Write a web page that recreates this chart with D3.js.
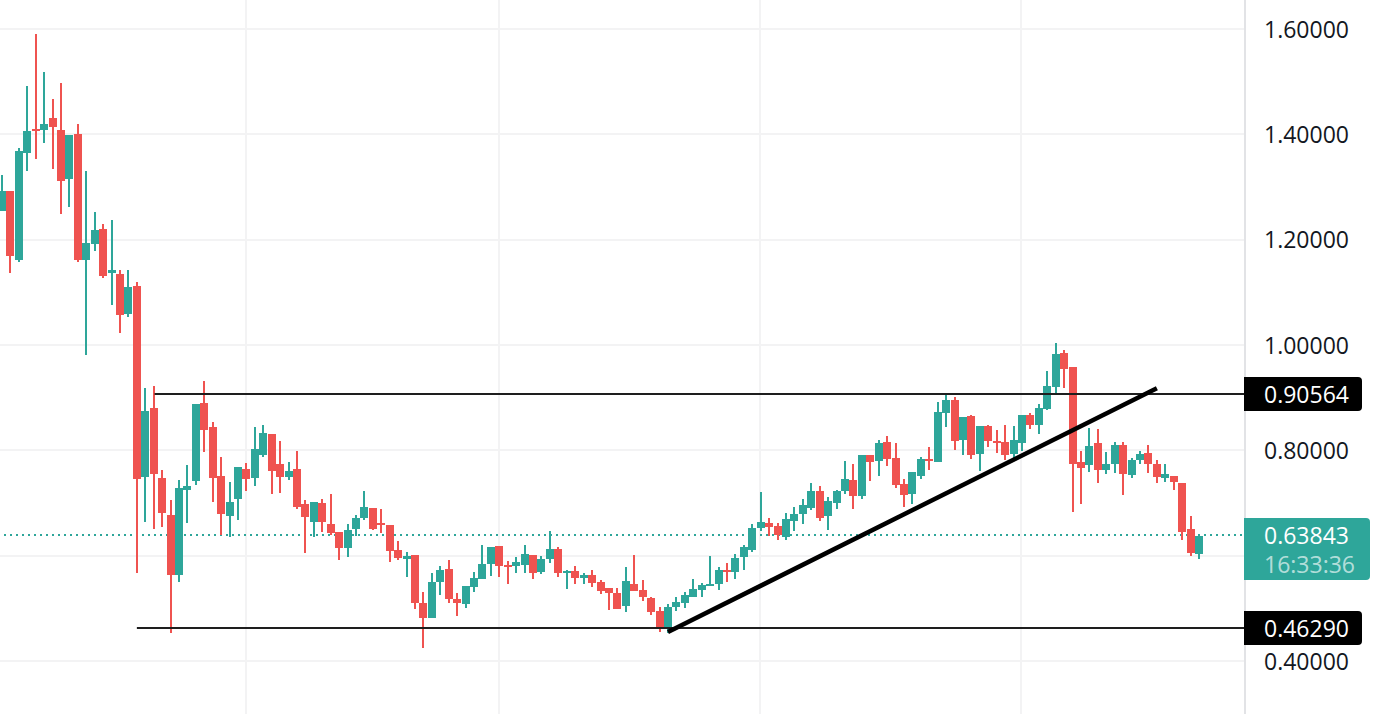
<!DOCTYPE html>
<html><head><meta charset="utf-8">
<script src="https://cdn.jsdelivr.net/npm/d3@7"></script>
<style>html,body{margin:0;padding:0;background:#fff;overflow:hidden}svg{display:block}
text{font-family:"Open Sans",sans-serif;font-size:23px}</style></head><body>
<svg id="c" width="1380" height="714"></svg>
<script>
const opens=[1.254,1.292,1.161,1.365,1.410,1.408,1.431,1.408,1.315,1.401,1.161,1.192,1.220,1.137,1.135,1.059,1.112,
.749,.880,.748,.677,.563,.725,.742,.890,.844,.751,.675,.708,.765,.748,.791,.831,.774,.749,
.765,.698,.664,.700,.660,.645,.615,.651,.672,.691,.662,.658,.611,.594,.601,.510,.482,.550,.575,.518,.508,.541,.556,.584,.618,.582,.580,.582,.601,.569,.594,.613,.567,.571,
.558,.563,.550,.539,.529,.505,.546,.535,.520,.495,.465,.503,.510,.522,.535,.542,.546,.573,.569,.598,.611,.653,.662,.656,.636,.666,
.679,.691,.723,.675,.700,.723,.744,.714,.791,.780,.816,.786,.736,.717,.751,.784,.778,.870,.896,.820,.866,.793,.846,.818,.816,
.793,.814,.868,.848,.878,.920,.985,.958,.778,.772,.814,.763,.774,.810,.753,.782,.795,.774,.748,.751,.738,.651,.603];
const highs=[1.323,1.292,1.374,1.492,1.591,1.518,1.467,1.498,1.399,1.420,1.330,1.253,1.230,1.237,1.142,1.142,1.120,
.918,.922,.763,.706,.744,.772,.888,.932,.854,.787,.740,.768,.776,.844,.848,.831,.818,.778,
.799,.706,.702,.708,.717,.645,.660,.677,.723,.691,.689,.658,.628,.607,.601,.531,.567,.580,.592,.529,.542,.569,.620,.617,.618,.590,.598,.620,.601,.599,.647,.617,.573,.580,
.567,.573,.554,.539,.539,.579,.601,.554,.522,.503,.508,.522,.531,.556,.548,.599,.579,.586,.603,.620,.660,.721,.672,.662,.681,.692,
.708,.738,.732,.712,.725,.780,.774,.791,.791,.820,.828,.814,.746,.759,.787,.807,.892,.907,.902,.864,.868,.846,.848,.839,.848,
.846,.868,.871,.888,.951,1.004,.991,.958,.799,.842,.841,.797,.816,.816,.786,.799,.810,.782,.774,.751,.738,.675,.641];
const lows=[1.254,1.137,1.158,1.330,1.353,1.384,1.334,1.249,1.262,1.158,.981,1.179,1.127,1.076,1.023,1.053,.567,
.664,.651,.654,.453,.550,.662,.734,.797,.702,.639,.636,.668,.723,.732,.787,.717,.719,.744,
.689,.605,.636,.645,.639,.592,.598,.637,.668,.649,.643,.588,.592,.560,.499,.425,.482,.525,.510,.486,.501,.531,.556,.561,.560,.546,.567,.567,.556,.565,.586,.560,.537,.546,
.546,.541,.527,.497,.499,.493,.533,.514,.487,.455,.453,.495,.501,.522,.522,.542,.535,.550,.556,.573,.607,.647,.637,.630,.630,.647,
.660,.687,.666,.649,.689,.717,.689,.708,.742,.751,.770,.729,.692,.698,.746,.763,.778,.844,.801,.791,.784,.761,.807,.795,.782,
.780,.799,.841,.831,.877,.909,.918,.683,.698,.759,.738,.755,.757,.716,.748,.774,.757,.738,.740,.725,.630,.599,.594];
const closes=[1.292,1.169,1.368,1.406,1.406,1.420,1.414,1.312,1.399,1.161,1.194,1.218,1.131,1.142,1.057,1.110,.746,
.875,.755,.681,.563,.729,.732,.888,.839,.748,.679,.702,.768,.746,.803,.833,.761,.749,.761,
.692,.673,.702,.664,.643,.615,.649,.672,.692,.651,.658,.609,.596,.599,.510,.482,.550,.573,.518,.510,.542,.558,.584,.617,.580,.579,.588,.603,.567,.594,.613,.567,.571,.558,
.563,.548,.533,.529,.499,.552,.533,.522,.493,.465,.503,.512,.525,.537,.544,.546,.573,.569,.596,.617,.653,.664,.654,.639,.670,.679,
.696,.723,.672,.704,.723,.746,.714,.791,.778,.814,.784,.734,.716,.759,.784,.780,.872,.896,.818,.864,.791,.846,.818,.814,.791,
.820,.868,.848,.880,.922,.983,.954,.774,.767,.808,.763,.774,.810,.755,.782,.793,.774,.749,.755,.740,.645,.605,.638];

const priceTicks=[1.6,1.4,1.2,1.0,0.8,0.4];
const gridPrices=[1.6,1.4,1.2,1.0,0.8,0.6,0.4];
const timeGridIndex=[29,59,90,121];
const levelHigh=0.90564, levelLow=0.46290, lastPrice=0.63843;
const levelHighStart=18.1, levelLowStart=16;
const trendIndex=[79,137], trendPrice=[0.455,0.918];
const countdown="16:33:36";

const W=1380,H=714,axisX=1245;
const teal="#2ea69a",red="#ef5350",ink="#131722";
const x=d3.scaleLinear().domain([0,142]).range([2,1199]);
const y=d3.scaleLinear().domain([0.4,1.6]).range([661,29]);
const svg=d3.select("#c");
const f5=d3.format(".5f");
const snap=v=>Math.round(y(v)-0.3);
const yh=snap(levelHigh),yl=snap(levelLow),yp=snap(lastPrice);

const plot=svg.append("g");
plot.selectAll(".gh").data(gridPrices).join("line").attr("x1",0).attr("x2",axisX)
  .attr("y1",d=>Math.round(y(d))).attr("y2",d=>Math.round(y(d))).attr("stroke","#f3f3f4").attr("stroke-width",2);
plot.selectAll(".gv").data(timeGridIndex).join("line").attr("y1",0).attr("y2",H)
  .attr("x1",d=>Math.floor(x(d))).attr("x2",d=>Math.floor(x(d))).attr("stroke","#f3f3f4").attr("stroke-width",2);

plot.append("line").attr("x1",4).attr("x2",axisX).attr("y1",yp).attr("y2",yp)
  .attr("stroke",teal).attr("stroke-width",2).attr("stroke-dasharray","2 4");

const idx=d3.range(opens.length);
const g=plot.append("g").attr("shape-rendering","crispEdges");
g.selectAll(".w").data(idx).join("rect").attr("x",i=>Math.round(x(i))-1).attr("width",2)
  .attr("y",i=>Math.round(y(highs[i]))).attr("height",i=>Math.max(1,Math.round(y(lows[i]))-Math.round(y(highs[i]))))
  .attr("fill",i=>closes[i]>=opens[i]?teal:red);
g.selectAll(".b").data(idx).join("rect").attr("x",i=>Math.round(x(i))-4).attr("width",8)
  .attr("y",i=>Math.round(y(Math.max(opens[i],closes[i]))))
  .attr("height",i=>Math.max(2,Math.round(y(Math.min(opens[i],closes[i])))-Math.round(y(Math.max(opens[i],closes[i])))))
  .attr("fill",i=>closes[i]>=opens[i]?teal:red);

plot.append("line").attr("x1",x(levelHighStart)).attr("x2",axisX).attr("y1",yh).attr("y2",yh).attr("stroke","#1e1e1e").attr("stroke-width",2);
plot.append("line").attr("x1",x(levelLowStart)).attr("x2",axisX).attr("y1",yl).attr("y2",yl).attr("stroke","#1e1e1e").attr("stroke-width",2);
plot.append("line").attr("x1",x(trendIndex[0])).attr("y1",y(trendPrice[0])).attr("x2",x(trendIndex[1])).attr("y2",y(trendPrice[1])).attr("stroke","#000").attr("stroke-width",4.5);

svg.append("rect").attr("x",axisX).attr("y",0).attr("width",W-axisX).attr("height",H).attr("fill","#fff");
svg.append("line").attr("x1",axisX).attr("x2",axisX).attr("y1",0).attr("y2",H).attr("stroke","#e2e3e6").attr("stroke-width",2);

const axis=d3.axisRight(y).tickValues(priceTicks).tickFormat(f5).tickSize(0).tickPadding(0);
const ag=svg.append("g").attr("transform",`translate(1264,-1)`).call(axis);
ag.select(".domain").remove();
ag.selectAll("text").attr("fill",ink).attr("font-size",null).attr("font-family",null).attr("dy",null).attr("dominant-baseline","central");

function badge(y0,y1,x1,fill){
  const r=4,x0=axisX-1;
  svg.append("path").attr("fill",fill).attr("d",`M${x0},${y0}H${x1-r}Q${x1},${y0} ${x1},${y0+r}V${y1-r}Q${x1},${y1} ${x1-r},${y1}H${x0}Z`);
}
function label(v,cy,op){
  svg.append("text").attr("x",1264).attr("y",cy).attr("dominant-baseline","central").attr("fill","#fff").attr("fill-opacity",op).text(v);
}
badge(yh-17,yh+17,1362,"#000"); label(f5(levelHigh),yh,1);
badge(yl-17,yl+17,1362,"#000"); label(f5(levelLow),yl,1);
badge(yp-17,yp+45,1370,teal); label(f5(lastPrice),yp,1); label(countdown,yp+29,.65);
</script></body></html>
